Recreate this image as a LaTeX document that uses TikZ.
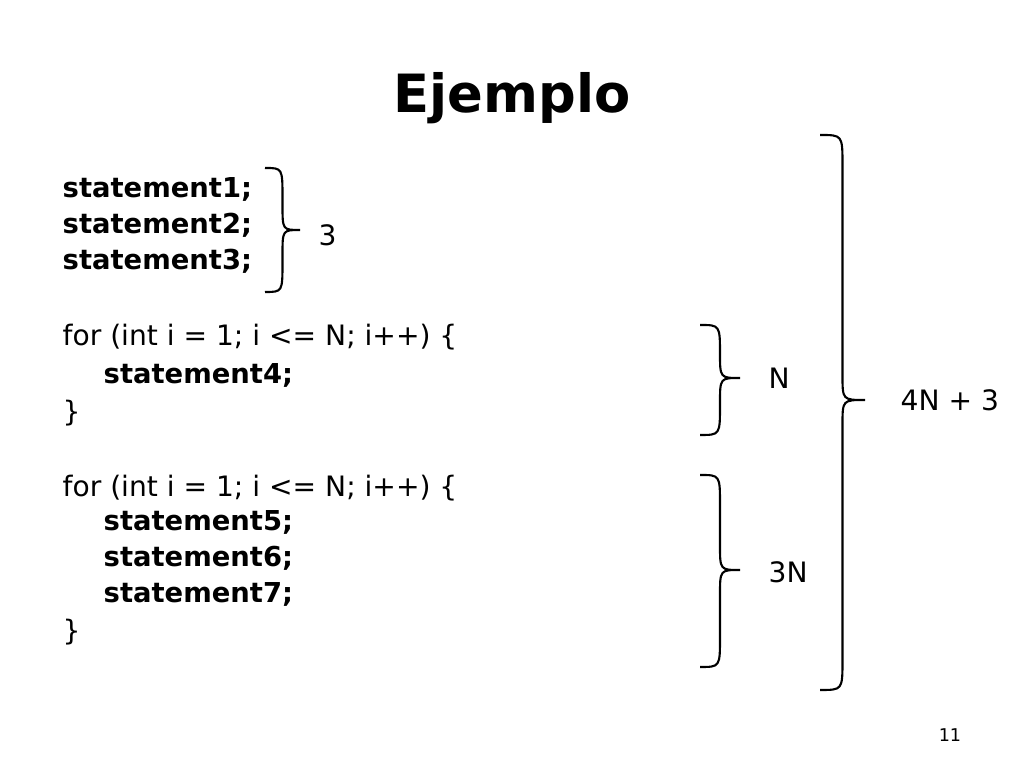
\documentclass[tikz,border=0pt]{standalone}
\usepackage{fontspec}
\setmainfont{DejaVu Sans}
\usetikzlibrary{positioning}
\tikzset{
  code/.style={anchor=base west, inner sep=0pt, font=\fontsize{8}{9}\selectfont},
  stmt/.style={code, font=\fontsize{7.8}{9}\selectfont\bfseries},
  count/.style={anchor=west, inner sep=0pt, font=\fontsize{8}{9}\selectfont},
  brace/.style={line width=0.6pt}
}
% right brace: x-left, x-right, y-top, y-tip, y-bottom
\newcommand{\rbr}[5]{%
  \pgfmathsetmacro{\xm}{(#1+#2)/2}
  \draw[brace] (#1,#3) .. controls (\xm,#3) .. (\xm,#3-0.3)
    -- (\xm,#4+0.25) .. controls (\xm,#4) .. (#2,#4)
    .. controls (\xm,#4) .. (\xm,#4-0.25)
    -- (\xm,#5+0.3) .. controls (\xm,#5) .. (#1,#5);}
\begin{document}
\begin{tikzpicture}
\useasboundingbox (0,0) rectangle (10.24,7.68);

\node[font=\fontsize{15}{18}\selectfont\bfseries] (title) at (5.12,6.7) {Ejemplo};

% code lines
\node[stmt] (s1) at (0.62,5.7) {statement1;};
\node[stmt] (s2) at (0.62,5.34) {statement2;};
\node[stmt] (s3) at (0.62,4.98) {statement3;};
\node[code] (f1) at (0.62,4.22) {for (int i = 1; i <= N; i++) \{};
\node[stmt] (s4) at (1.03,3.84) {statement4;};
\node[code] (c1) at (0.62,3.46) {\}};
\node[code] (f2) at (0.62,2.71) {for (int i = 1; i <= N; i++) \{};
\node[stmt] (s5) at (1.03,2.37) {statement5;};
\node[stmt] (s6) at (1.03,2.01) {statement6;};
\node[stmt] (s7) at (1.03,1.65) {statement7;};
\node[code] (c2) at (0.62,1.27) {\}};

% braces
\rbr{2.65}{3.0}{6.0}{5.38}{4.76}
\rbr{7.0}{7.4}{4.43}{3.9}{3.33}
\rbr{7.0}{7.4}{2.93}{1.98}{1.01}
\rbr{8.2}{8.65}{6.33}{3.68}{0.78}

\node[count] (n3) at (3.18,5.33) {3};
\node[count] (nN) at (7.68,3.9) {N};
\node[count] (n3N) at (7.68,1.96) {3N};
\node[count] (ntot) at (9.0,3.68) {4N + 3};

\node[font=\fontsize{5}{6}\selectfont] (page) at (9.5,0.33) {11};
\end{tikzpicture}
\end{document}
